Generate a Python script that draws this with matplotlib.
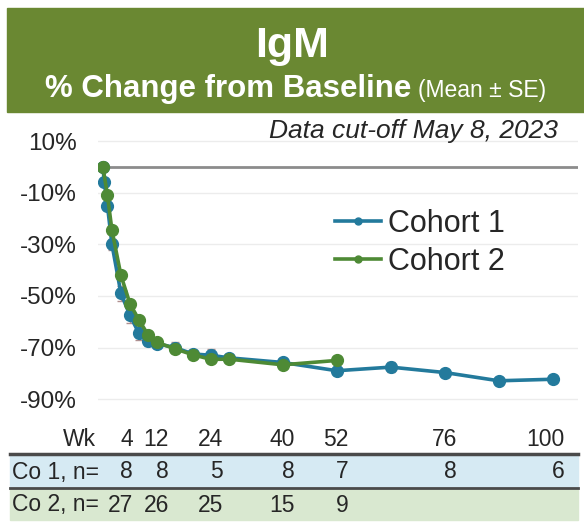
import matplotlib
matplotlib.use('Agg')
import matplotlib.pyplot as plt
import matplotlib.font_manager as fm
from matplotlib.patches import Rectangle
from matplotlib.lines import Line2D
from matplotlib.transforms import blended_transform_factory, offset_copy

# data (% change from baseline, mean and SE)
co1_wk = [0, 0.3, 1, 2, 4, 6, 8, 10, 12, 16, 20, 24, 28, 40, 52, 64, 76, 88, 100]
co1_mean = [0, -6, -15, -30, -49, -57.5, -64.5, -67.5, -68.5, -70, -72.5, -73, -74,
            -75.8, -79, -77.6, -79.7, -82.9, -82.3]
co1_se = [0, 1, 1.5, 2, 3, 3, 2.5, 2, 1.5, 2, 1.5, 2.3, 1.5, 1.5, 1.5, 2, 1, 1, 1]

co2_wk = [0, 1, 2, 4, 6, 8, 10, 12, 16, 20, 24, 28, 40, 52]
co2_mean = [0, -11, -24.5, -42, -53, -59.3, -65, -68, -70.5, -72.8, -74.6, -74.5, -76.7, -75]
co2_se = [0, 0.8, 1, 1.2, 1.2, 1.2, 1, 1, 1, 1, 1, 1, 1, 1.3]

yticks = [10, -10, -30, -50, -70, -90]
tbl_wk = [4, 12, 24, 40, 52, 76, 100]
n_co1 = [8, 8, 5, 8, 7, 8, 6]
n_co2 = [27, 26, 25, 15, 9]

blue = '#237a9c'
green = '#4e8a35'
band = '#6a8832'
err = '#b08f8f'
txt = '#262626'

names = {f.name for f in fm.fontManager.ttflist}
plt.rcParams['font.family'] = ['Liberation Sans', 'DejaVu Sans']
if 'Liberation Sans Narrow' in names:
    tbl_font, tbl_size = ['Liberation Sans Narrow', 'Liberation Sans'], 18.5
else:
    tbl_font, tbl_size = ['Liberation Sans', 'DejaVu Sans'], 16.5

W, H = 584, 522
fig = plt.figure(figsize=(W / 100, H / 100), dpi=100)


def fy(py):
    return 1 - py / H


# header band
fig.patches.append(Rectangle((7 / W, fy(112)), (W - 7) / W, (112 - 8) / H,
                             transform=fig.transFigure, color=band, zorder=0))
fig.text(292 / W, fy(46), 'IgM', color='white', fontsize=31, fontweight='bold',
         ha='center', va='center')
fig.text(411 / W, fy(97), '% Change from Baseline', color='white', fontsize=22.5,
         fontweight='bold', ha='right', va='baseline')
fig.text(418 / W, fy(97), '(Mean \u00b1 SE)', color='white', fontsize=16.5,
         ha='left', va='baseline')

# main plot
ax = fig.add_axes([98 / W, fy(412), (578 - 98) / W, (412 - 118) / H])
ax.set_xlim(-1.1, 105.6)
ax.set_ylim(-95, 19)
for s in ax.spines.values():
    s.set_visible(False)
ax.set_xticks([])
ax.set_yticks(yticks)
ax.set_yticklabels([f'{v}%' for v in yticks])
ax.tick_params(axis='y', length=0, pad=15, labelsize=17.5, labelcolor=txt)
for v in yticks:
    ax.axhline(v, color='#ececec', lw=1, zorder=0)
ax.axhline(0, color='#8c8c8c', lw=2, zorder=1)

ax.errorbar(co1_wk, co1_mean, yerr=co1_se, fmt='none', ecolor=err, elinewidth=1,
            capsize=3, zorder=2)
ax.errorbar(co2_wk, co2_mean, yerr=co2_se, fmt='none', ecolor=err, elinewidth=1,
            capsize=3, zorder=2)
ax.plot(co1_wk, co1_mean, color=blue, lw=2.6, marker='o', ms=8.5, zorder=3)
ax.plot(co2_wk, co2_mean, color=green, lw=2.6, marker='o', ms=8.5, zorder=4)

ax.text(558 / W, fy(131), 'Data cut-off May 8, 2023', transform=fig.transFigure,
        fontsize=19, fontstyle='italic', color=txt, ha='right', va='center')

handles = [Line2D([], [], color=blue, lw=2.6, marker='o', ms=5),
           Line2D([], [], color=green, lw=2.6, marker='o', ms=5)]
ax.legend(handles, ['Cohort 1', 'Cohort 2'], loc='center left',
          bbox_to_anchor=(335 / W, fy(243)), bbox_transform=fig.transFigure,
          frameon=False, fontsize=22, handlelength=1.5, handletextpad=0.25,
          labelspacing=0.25, borderpad=0, borderaxespad=0, labelcolor=txt)

# n table under the plot
fig.patches.append(Rectangle((10 / W, fy(488)), (578 - 10) / W, (488 - 454) / H,
                             transform=fig.transFigure, color='#d6eaf3', zorder=0))
fig.patches.append(Rectangle((10 / W, fy(520)), (578 - 10) / W, (520 - 488) / H,
                             transform=fig.transFigure, color='#d9e8d0', zorder=0))
fig.lines.append(Line2D([10 / W, 578 / W], [fy(454), fy(454)], transform=fig.transFigure,
                        color='#4a4a4a', lw=2.5))
fig.lines.append(Line2D([10 / W, 578 / W], [fy(488), fy(488)], transform=fig.transFigure,
                        color='#4a4a4a', lw=2))

tr = offset_copy(blended_transform_factory(ax.transData, fig.transFigure),
                 fig=fig, x=12, units='dots')
tkw = dict(fontsize=tbl_size, family=tbl_font, color=txt, va='center')
fig.text(96 / W, fy(440), 'Wk', ha='right', **tkw)
fig.text(12 / W, fy(472), 'Co 1, n=', ha='left', **tkw)
fig.text(12 / W, fy(505), 'Co 2, n=', ha='left', **tkw)
for i, w in enumerate(tbl_wk):
    fig.text(w, fy(440), str(w), transform=tr, ha='right', **tkw)
    fig.text(w, fy(472), str(n_co1[i]), transform=tr, ha='right', **tkw)
    if i < len(n_co2):
        fig.text(w, fy(505), str(n_co2[i]), transform=tr, ha='right', **tkw)

fig.savefig('out.png', dpi=100)
